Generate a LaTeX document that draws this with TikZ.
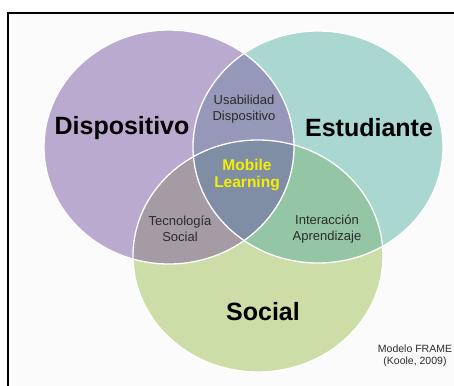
\documentclass[tikz,border=0pt]{standalone}
\usepackage{fontspec}
\setmainfont{Liberation Sans}
\definecolor{cpurple}{HTML}{BBAACF}
\definecolor{cteal}{HTML}{AAD7D0}
\definecolor{cgreen}{HTML}{CDDDA8}
\definecolor{cpt}{HTML}{9698B9}
\definecolor{cpg}{HTML}{A59BA5}
\definecolor{ctg}{HTML}{94C6A5}
\definecolor{call}{HTML}{808EA5}
\definecolor{framebg}{HTML}{FBFBFB}
\definecolor{mlyellow}{HTML}{F4F000}
\definecolor{smalltext}{HTML}{2B2B2B}
\tikzset{
  biglabel/.style={font=\fontsize{25}{28}\selectfont\bfseries, text=black, inner sep=0pt},
  smalllabel/.style={font=\fontsize{13}{16}\selectfont, text=smalltext, align=center, inner sep=0pt},
  mllabel/.style={font=\fontsize{15.5}{17}\selectfont\bfseries, text=mlyellow, align=center, inner sep=0pt},
  notelabel/.style={font=\fontsize{10.5}{12}\selectfont, text=smalltext, align=center, inner sep=0pt},
  ringline/.style={draw=white, line width=1.3pt}
}
\begin{document}
\begin{tikzpicture}[x=1pt,y=-1pt]
\useasboundingbox (0,0) rectangle (454,385);
\clip (0,0) rectangle (454,385);
\fill[framebg] (8,13) rectangle (470,400);
\draw[line width=2pt] (8,400) -- (8,13) -- (470,13);
% base circles
\fill[cpurple] (169,147) ellipse [x radius=125pt, y radius=117pt];
\fill[cteal] (318,147) ellipse [x radius=125pt, y radius=116pt];
\fill[cgreen] (258,256) ellipse [x radius=125pt, y radius=116pt];
% pairwise overlaps
\begin{scope}
  \clip (169,147) ellipse [x radius=125pt, y radius=117pt];
  \fill[cpt] (318,147) ellipse [x radius=125pt, y radius=116pt];
  \fill[cpg] (258,256) ellipse [x radius=125pt, y radius=116pt];
\end{scope}
\begin{scope}
  \clip (318,147) ellipse [x radius=125pt, y radius=116pt];
  \fill[ctg] (258,256) ellipse [x radius=125pt, y radius=116pt];
\end{scope}
\begin{scope}
  \clip (169,147) ellipse [x radius=125pt, y radius=117pt];
  \clip (318,147) ellipse [x radius=125pt, y radius=116pt];
  \fill[call] (258,256) ellipse [x radius=125pt, y radius=116pt];
\end{scope}
% outlines
\draw[ringline] (169,147) ellipse [x radius=125pt, y radius=117pt];
\draw[ringline] (318,147) ellipse [x radius=125pt, y radius=116pt];
\draw[ringline] (258,256) ellipse [x radius=125pt, y radius=116pt];
% labels
\node[biglabel] (disp) at (122,128) {Dispositivo};
\node[biglabel] (est) at (369,128) {Estudiante};
\node[biglabel] (soc) at (263,312) {Social};
\node[smalllabel] (usab) at (244,109) {Usabilidad\\Dispositivo};
\node[mllabel] (ml) at (247,175) {Mobile\\Learning};
\node[smalllabel] (tec) at (180,229) {Tecnología\\Social};
\node[smalllabel] (inter) at (327,229) {Interacción\\Aprendizaje};
\node[notelabel] (note) at (415,356) {Modelo FRAME\\(Koole, 2009)};
\end{tikzpicture}
\end{document}
